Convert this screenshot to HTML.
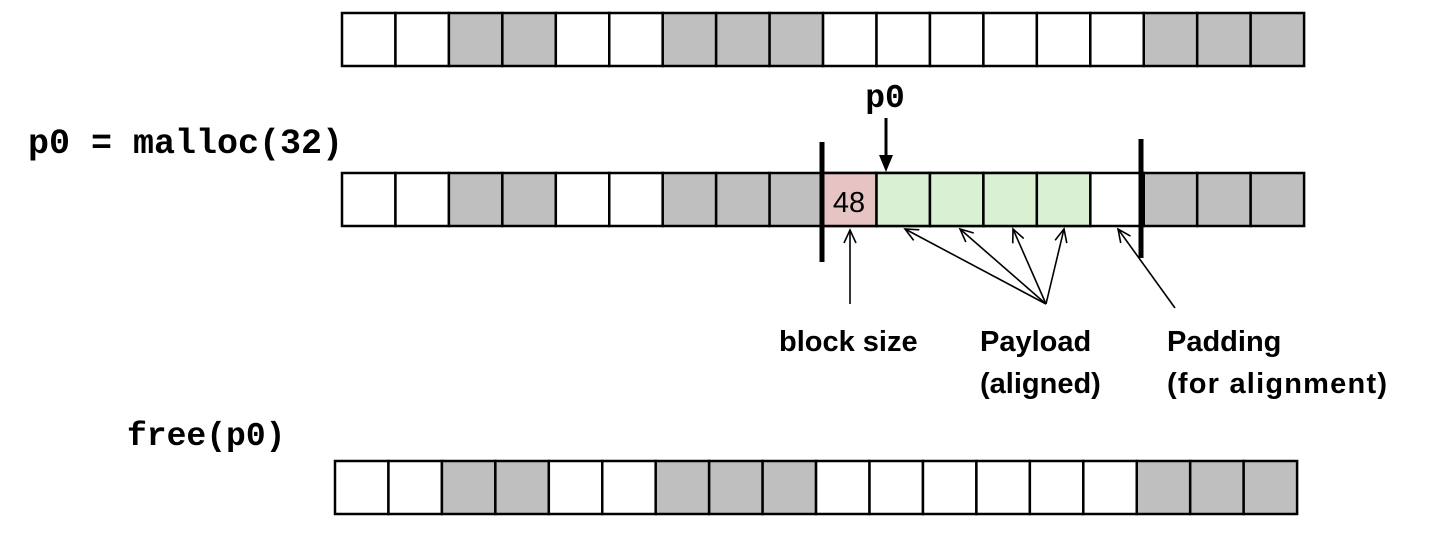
<!DOCTYPE html>
<html><head><style>
body{margin:0;background:#fff;width:1442px;height:536px;overflow:hidden;}
</style></head><body>
<svg width="1442" height="536" xmlns="http://www.w3.org/2000/svg">
<defs>
<marker id="a" markerWidth="16" markerHeight="16" refX="14" refY="7" orient="auto" markerUnits="userSpaceOnUse">
<path d="M1,1 L14,7 L1,13" fill="none" stroke="#000" stroke-width="1.6"/>
</marker>
<g id="row" stroke="#000" stroke-width="2.5">
<rect x="0" y="0" width="53.45" height="53" fill="#fff"/>
<rect x="53.45" y="0" width="53.45" height="53" fill="#fff"/>
<rect x="106.9" y="0" width="53.45" height="53" fill="#bfbfbf"/>
<rect x="160.35" y="0" width="53.45" height="53" fill="#bfbfbf"/>
<rect x="213.8" y="0" width="53.45" height="53" fill="#fff"/>
<rect x="267.25" y="0" width="53.45" height="53" fill="#fff"/>
<rect x="320.7" y="0" width="53.45" height="53" fill="#bfbfbf"/>
<rect x="374.15" y="0" width="53.45" height="53" fill="#bfbfbf"/>
<rect x="427.6" y="0" width="53.45" height="53" fill="#bfbfbf"/>
<rect x="481.05" y="0" width="53.45" height="53" fill="#fff"/>
<rect x="534.5" y="0" width="53.45" height="53" fill="#fff"/>
<rect x="587.95" y="0" width="53.45" height="53" fill="#fff"/>
<rect x="641.4" y="0" width="53.45" height="53" fill="#fff"/>
<rect x="694.85" y="0" width="53.45" height="53" fill="#fff"/>
<rect x="748.3" y="0" width="53.45" height="53" fill="#fff"/>
<rect x="801.75" y="0" width="53.45" height="53" fill="#bfbfbf"/>
<rect x="855.2" y="0" width="53.45" height="53" fill="#bfbfbf"/>
<rect x="908.65" y="0" width="53.45" height="53" fill="#bfbfbf"/>
</g>
</defs>
<use href="#row" x="342" y="13"/>
<use href="#row" x="342" y="173"/>
<use href="#row" x="335" y="461"/>
<g stroke="#000" stroke-width="2.5" transform="translate(342,173)">
<rect x="481.05" y="0" width="53.45" height="53" fill="#e6c4c4"/>
<rect x="534.5" y="0" width="53.45" height="53" fill="#d9f0d3"/>
<rect x="587.95" y="0" width="53.45" height="53" fill="#d9f0d3"/>
<rect x="641.4" y="0" width="53.45" height="53" fill="#d9f0d3"/>
<rect x="694.85" y="0" width="53.45" height="53" fill="#d9f0d3"/>
</g>
<line x1="822" y1="142" x2="822" y2="262" stroke="#000" stroke-width="5"/>
<line x1="1141" y1="139" x2="1141" y2="258" stroke="#000" stroke-width="5"/>
<text x="849" y="212" font-family="Liberation Sans, sans-serif" font-size="29" text-anchor="middle">48</text>
<line x1="886" y1="118" x2="886" y2="158" stroke="#000" stroke-width="3"/>
<path d="M879,155 L886,172 L893,155 Z" fill="#000"/>
<text x="885" y="107" font-family="Liberation Mono, monospace" font-weight="bold" font-size="33" text-anchor="middle">p0</text>
<text x="28" y="153" font-family="Liberation Mono, monospace" font-weight="bold" font-size="35">p0 = malloc(32)</text>
<text x="127" y="445" font-family="Liberation Mono, monospace" font-weight="bold" font-size="33">free(p0)</text>
<g stroke="#000" stroke-width="1.6" marker-end="url(#a)">
<line x1="850" y1="304" x2="850" y2="230"/>
<line x1="1046" y1="304" x2="905" y2="229"/>
<line x1="1046" y1="304" x2="960" y2="229"/>
<line x1="1046" y1="304" x2="1013" y2="229"/>
<line x1="1046" y1="304" x2="1064" y2="229"/>
<line x1="1175" y1="308" x2="1118" y2="229"/>
</g>
<g font-family="Liberation Sans, sans-serif" font-weight="bold" font-size="29">
<text x="779" y="351">block size</text>
<text x="980" y="351">Payload</text>
<text x="980" y="393">(aligned)</text>
<text x="1167" y="351">Padding</text>
<text x="1167" y="393" textLength="220">(for alignment)</text>
</g>
</svg>
</body></html>
